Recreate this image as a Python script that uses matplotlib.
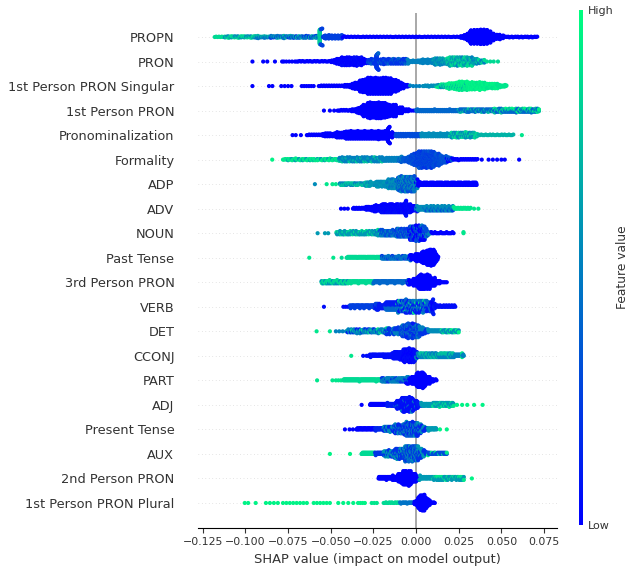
import numpy as np
import matplotlib
matplotlib.use('Agg')
from matplotlib import pyplot as plt

# features, top to bottom
features = ['PROPN', 'PRON', '1st Person PRON Singular', '1st Person PRON',
            'Pronominalization', 'Formality', 'ADP', 'ADV', 'NOUN',
            'Past Tense', '3rd Person PRON', 'VERB', 'DET', 'CCONJ', 'PART',
            'ADJ', 'Present Tense', 'AUX', '2nd Person PRON',
            '1st Person PRON Plural']

propn = [(-0.118, -0.094, 30, 0.85), (-0.112, -0.094, 20, 0.55),
         (-0.094, -0.057, 50, 0.45), (-0.094, -0.057, 30, 0.7),
         (-0.085, -0.057, 20, 0.2), (-0.0564, -0.0564, 40, 0.8),
         (-0.056, -0.043, 65, 0.25), (-0.043, 0.026, 70, 0.0),
         (0.026, 0.049, 90, 0.0), (0.028, 0.046, 90, 0.0),
         (0.030, 0.044, 84, 0.0), (0.031, 0.042, 66, 0.0),
         (0.047, 0.051, 12, 0.0), (0.049, 0.071, 32, 0.0)]
pron = [(-0.0959, -0.0959, 1, 0.0), (-0.0896, -0.0896, 1, 0.0),
        (-0.0872, -0.0872, 1, 0.0), (-0.0827, -0.0827, 1, 0.0),
        (-0.0785, -0.0775, 2, 0.0), (-0.076, -0.071, 4, 0.0),
        (-0.070, -0.050, 24, 0.0), (-0.050, -0.028, 66, 0.0),
        (-0.048, -0.030, 72, 0.0), (-0.045, -0.032, 52, 0.05),
        (-0.028, -0.005, 115, 0.2), (-0.028, -0.005, 40, 0.4),
        (-0.0232, -0.0232, 24, 0.2), (-0.005, 0.015, 50, 0.5),
        (0.002, 0.040, 95, 0.5), (0.010, 0.036, 104, 0.65),
        (0.018, 0.033, 75, 0.85), (0.036, 0.040, 6, 0.85),
        (0.0415, 0.0415, 1, 0.85), (0.0435, 0.0435, 1, 0.85),
        (0.0455, 0.0455, 1, 0.85), (0.048, 0.048, 1, 0.85)]
sing = [(-0.0959, -0.0959, 1, 0.0), (-0.0862, -0.0842, 2, 0.0),
        (-0.079, -0.073, 4, 0.0), (-0.067, -0.060, 6, 0.0),
        (-0.057, -0.042, 21, 0.0), (-0.042, -0.005, 111, 0.0),
        (-0.038, -0.008, 150, 0.0), (-0.034, -0.011, 161, 0.0),
        (-0.030, -0.015, 75, 0.0), (-0.005, -0.004, 2, 0.0),
        (-0.0035, 0.002, 4, 0.5), (0.004, 0.016, 18, 0.55),
        (0.012, 0.053, 100, 0.9), (0.018, 0.048, 105, 0.95),
        (0.023, 0.040, 51, 0.95), (0.016, 0.030, 20, 0.6)]
p1 = [(-0.054, -0.054, 1, 0.0), (-0.0505, -0.0505, 1, 0.0),
      (-0.048, -0.048, 1, 0.0), (-0.046, -0.038, 12, 0.0),
      (-0.038, -0.004, 100, 0.0), (-0.035, -0.008, 135, 0.0),
      (-0.032, -0.012, 140, 0.0), (-0.029, -0.018, 55, 0.0),
      (-0.004, 0.0, 4, 0.0), (0.0, 0.072, 180, 0.4),
      (0.025, 0.072, 50, 0.75), (0.045, 0.072, 30, 0.95)]
pronom = [(-0.0724, -0.0724, 1, 0.0), (-0.0705, -0.0705, 1, 0.0),
          (-0.0675, -0.0675, 1, 0.0), (-0.064, -0.050, 21, 0.0),
          (-0.055, -0.012, 130, 0.0), (-0.048, -0.014, 136, 0.0),
          (-0.042, -0.018, 72, 0.0), (-0.0165, -0.0165, 20, 0.0),
          (-0.012, 0.003, 55, 0.3), (0.003, 0.034, 125, 0.55),
          (0.020, 0.036, 40, 0.85), (0.034, 0.057, 28, 0.7),
          (0.062, 0.062, 1, 0.9)]
formality = [(-0.0843, -0.0843, 1, 0.95), (-0.078, -0.045, 50, 0.9),
             (-0.075, -0.045, 15, 0.6), (-0.045, -0.008, 150, 0.5),
             (-0.045, -0.020, 30, 0.8), (-0.010, 0.021, 93, 0.35),
             (-0.006, 0.018, 120, 0.3), (-0.003, 0.014, 102, 0.25),
             (0.000, 0.010, 60, 0.2), (0.018, 0.036, 27, 0.0),
             (0.0385, 0.0385, 1, 0.0), (0.0425, 0.0425, 1, 0.0),
             (0.045, 0.045, 1, 0.0), (0.0475, 0.0475, 1, 0.0),
             (0.050, 0.050, 1, 0.0), (0.052, 0.052, 1, 0.0),
             (0.0604, 0.0604, 1, 0.0)]
adp = [(-0.0593, -0.0593, 1, 0.55), (-0.0524, -0.0524, 1, 0.9),
       (-0.049, -0.047, 2, 0.9), (-0.0446, -0.027, 35, 0.75),
       (-0.0446, -0.027, 15, 0.5), (-0.030, 0.001, 93, 0.6),
       (-0.024, 0.001, 100, 0.55), (-0.017, 0.0, 85, 0.45),
       (-0.011, -0.001, 80, 0.3), (0.0, 0.034, 136, 0.0),
       (0.0345, 0.0355, 7, 0.0)]
adv = [(-0.044, -0.044, 1, 0.0), (-0.042, -0.042, 1, 0.0),
       (-0.040, -0.040, 1, 0.0), (-0.037, -0.024, 26, 0.0),
       (-0.030, 0.001, 93, 0.0), (-0.025, -0.001, 96, 0.0),
       (-0.021, -0.003, 90, 0.05), (-0.0065, -0.0065, 8, 0.0),
       (0.0, 0.022, 110, 0.55), (0.005, 0.022, 30, 0.3),
       (0.022, 0.032, 20, 0.9), (0.034, 0.034, 1, 0.9),
       (0.0365, 0.0365, 1, 0.9)]
noun = [(-0.0577, -0.0577, 1, 0.6), (-0.0534, -0.0534, 1, 0.6),
        (-0.0515, -0.0515, 1, 0.6), (-0.0466, -0.021, 77, 0.6),
        (-0.0466, -0.021, 20, 0.85), (-0.024, 0.009, 66, 0.5),
        (-0.021, 0.007, 112, 0.3), (-0.012, 0.006, 54, 0.2),
        (-0.004, 0.005, 63, 0.0), (0.009, 0.022, 20, 0.0),
        (0.0278, 0.0278, 2, 0.9)]
past = [(-0.0626, -0.0626, 1, 0.9), (-0.0485, -0.0485, 1, 0.9),
        (-0.0436, -0.0436, 1, 0.85), (-0.0407, -0.020, 52, 0.85),
        (-0.020, -0.003, 60, 0.45), (-0.020, -0.003, 15, 0.2),
        (-0.004, 0.013, 85, 0.0), (-0.001, 0.012, 78, 0.0),
        (0.003, 0.011, 56, 0.0), (0.006, 0.0105, 27, 0.0)]
third = [(-0.0554, -0.025, 91, 0.85), (-0.0554, -0.040, 15, 0.55),
         (-0.025, -0.004, 63, 0.4), (-0.005, 0.014, 76, 0.0),
         (-0.002, 0.011, 78, 0.0), (0.001, 0.008, 56, 0.0),
         (0.014, 0.018, 6, 0.0)]
verb = [(-0.054, -0.054, 1, 0.05), (-0.0426, -0.0387, 4, 0.05),
        (-0.0387, -0.022, 50, 0.25), (-0.024, 0.011, 140, 0.1),
        (-0.018, 0.009, 108, 0.4), (-0.011, 0.006, 36, 0.5),
        (-0.011, 0.006, 15, 0.9), (0.0096, 0.0096, 8, 0.0),
        (0.011, 0.023, 24, 0.05)]
det = [(-0.0583, -0.0583, 1, 0.9), (-0.0505, -0.0505, 1, 0.9),
       (-0.047, -0.041, 4, 0.5), (-0.040, -0.016, 72, 0.5),
       (-0.040, -0.016, 20, 0.85), (-0.040, -0.016, 15, 0.1),
       (-0.018, 0.007, 100, 0.2), (-0.014, 0.005, 76, 0.5),
       (-0.009, 0.002, 66, 0.3), (-0.006, 0.0, 24, 0.1),
       (0.007, 0.025, 45, 0.55), (0.015, 0.025, 10, 0.95)]
cconj = [(-0.038, -0.038, 1, 0.9), (-0.031, -0.031, 1, 0.05),
         (-0.029, -0.027, 3, 0.05), (-0.027, -0.019, 24, 0.05),
         (-0.019, 0.001, 80, 0.05), (-0.014, 0.0, 70, 0.05),
         (-0.008, -0.001, 49, 0.0), (0.0, 0.028, 84, 0.5),
         (0.002, 0.022, 50, 0.75), (0.027, 0.027, 2, 0.9)]
part = [(-0.058, -0.058, 1, 0.9), (-0.049, -0.049, 1, 0.9),
        (-0.047, -0.044, 3, 0.9), (-0.0426, -0.020, 68, 0.85),
        (-0.020, -0.004, 64, 0.5), (-0.020, -0.004, 20, 0.2),
        (-0.006, 0.010, 64, 0.0), (-0.003, 0.008, 66, 0.0),
        (0.000, 0.005, 50, 0.0), (0.010, 0.012, 5, 0.0)]
adj = [(-0.0319, -0.0319, 1, 0.0), (-0.027, -0.017, 30, 0.0),
       (-0.017, 0.003, 80, 0.1), (-0.012, 0.001, 78, 0.05),
       (-0.009, -0.002, 63, 0.05), (-0.012, 0.0, 20, 0.5),
       (0.003, 0.022, 76, 0.6), (0.010, 0.022, 20, 0.9),
       (0.024, 0.024, 1, 0.95), (0.027, 0.027, 1, 0.95),
       (0.030, 0.030, 1, 0.95), (0.034, 0.034, 1, 0.95),
       (0.039, 0.039, 1, 0.95)]
present = [(-0.0417, -0.0417, 1, 0.0), (-0.039, -0.039, 1, 0.0),
           (-0.037, -0.037, 1, 0.0), (-0.035, -0.024, 33, 0.0),
           (-0.024, 0.007, 93, 0.15), (-0.019, 0.005, 96, 0.55),
           (-0.013, 0.003, 80, 0.15), (-0.007, 0.001, 48, 0.35),
           (0.007, 0.012, 15, 0.6), (0.014, 0.014, 1, 0.95),
           (0.018, 0.018, 1, 0.95)]
aux = [(-0.0505, -0.0505, 1, 0.95), (-0.0387, -0.0387, 1, 0.95),
       (-0.032, -0.024, 24, 0.85), (-0.024, 0.007, 93, 0.2),
       (-0.019, 0.005, 96, 0.6), (-0.013, 0.003, 80, 0.2),
       (-0.007, 0.001, 48, 0.4), (0.007, 0.018, 22, 0.3),
       (0.007, 0.018, 6, 0.9)]
second = [(-0.022, -0.014, 32, 0.0), (-0.014, 0.002, 80, 0.0),
          (-0.011, 0.000, 66, 0.0), (-0.008, -0.003, 35, 0.0),
          (0.002, 0.028, 78, 0.6), (0.010, 0.028, 20, 0.9),
          (0.0327, 0.0327, 1, 0.95)]
plural = [(-0.1004, -0.1004, 1, 0.95), (-0.0984, -0.0984, 1, 0.95),
          (-0.094, -0.094, 1, 0.95), (-0.088, -0.081, 4, 0.95),
          (-0.078, -0.064, 8, 0.95), (-0.060, -0.0505, 6, 0.95),
          (-0.0456, -0.0368, 4, 0.95), (-0.034, -0.030, 4, 0.95),
          (-0.026, -0.023, 3, 0.9), (-0.019, -0.0094, 15, 0.85),
          (-0.0094, -0.001, 17, 0.45), (-0.001, 0.008, 63, 0.0),
          (0.0005, 0.0065, 48, 0.0), (0.0015, 0.005, 28, 0.0),
          (0.008, 0.011, 6, 0.0)]

segments = [propn, pron, sing, p1, pronom, formality, adp, adv, noun, past,
            third, verb, det, cconj, part, adj, present, aux, second, plural]

xticks = [-0.125, -0.100, -0.075, -0.050, -0.025, 0.000, 0.025, 0.050, 0.075]


def swarm(x, row_height=0.4, nbins=100):
    # same stacking as shap's summary plot
    quant = np.round(nbins * (x - x.min()) / (x.max() - x.min() + 1e-8))
    inds = np.argsort(quant, kind='stable')
    ys = np.zeros(len(x))
    layer = 0
    last_bin = -1
    for ind in inds:
        if quant[ind] != last_bin:
            layer = 0
        ys[ind] = np.ceil(layer / 2) * ((layer % 2) * 2 - 1)
        layer += 1
        last_bin = quant[ind]
    ys *= 0.9 * (row_height / np.max(ys + 1))
    return ys


fig = plt.figure(figsize=(6.31, 5.68), dpi=100)
ax = fig.add_axes([198 / 631, 40.5 / 568, 359 / 631, 515 / 568])

n = len(features)
for i, segs in enumerate(segments):
    pos = n - 1 - i
    xs = np.concatenate([np.linspace(lo, hi, k) for lo, hi, k, fv in segs])
    cs = np.concatenate([np.full(k, fv) for lo, hi, k, fv in segs])
    order = np.argsort(xs, kind='stable')
    xs, cs = xs[order], cs[order]
    ys = swarm(xs)
    ax.axhline(pos, color='#cccccc', lw=0.5, dashes=(1, 4), zorder=-1)
    ax.scatter(xs, pos + ys, c=cs, cmap='winter', vmin=0, vmax=1, s=9,
               linewidths=0, zorder=3)

ax.axvline(0, color='#999999', lw=1.2, zorder=-1)

ax.set_xlim(-0.1278, 0.0826)
ax.set_ylim(-1, n)
ax.set_yticks(range(n))
ax.set_yticklabels(features[::-1], fontsize=9.3, color='#333333')
ax.set_xticks(xticks)
ax.set_xticklabels([('%.3f' % t).replace('-', '\u2212') for t in xticks])
ax.tick_params('x', labelsize=7.9, color='#333333', labelcolor='#333333')
ax.tick_params('y', length=0, pad=17)
ax.set_xlabel('SHAP value (impact on model output)', fontsize=9.35,
              color='#333333')
for side in ['top', 'right', 'left']:
    ax.spines[side].set_visible(False)

cax = fig.add_axes([579 / 631, 43 / 568, 4 / 631, 515 / 568])
sm = plt.cm.ScalarMappable(cmap='winter', norm=plt.Normalize(0, 1))
cb = fig.colorbar(sm, cax=cax, ticks=[0, 1])
cb.set_ticklabels(['Low', 'High'])
cb.ax.tick_params(labelsize=8, length=0, labelcolor='#333333')
cb.set_label('Feature value', size=8.8, labelpad=2, color='#333333')
cb.outline.set_visible(False)

fig.savefig('out.png', dpi=100)
